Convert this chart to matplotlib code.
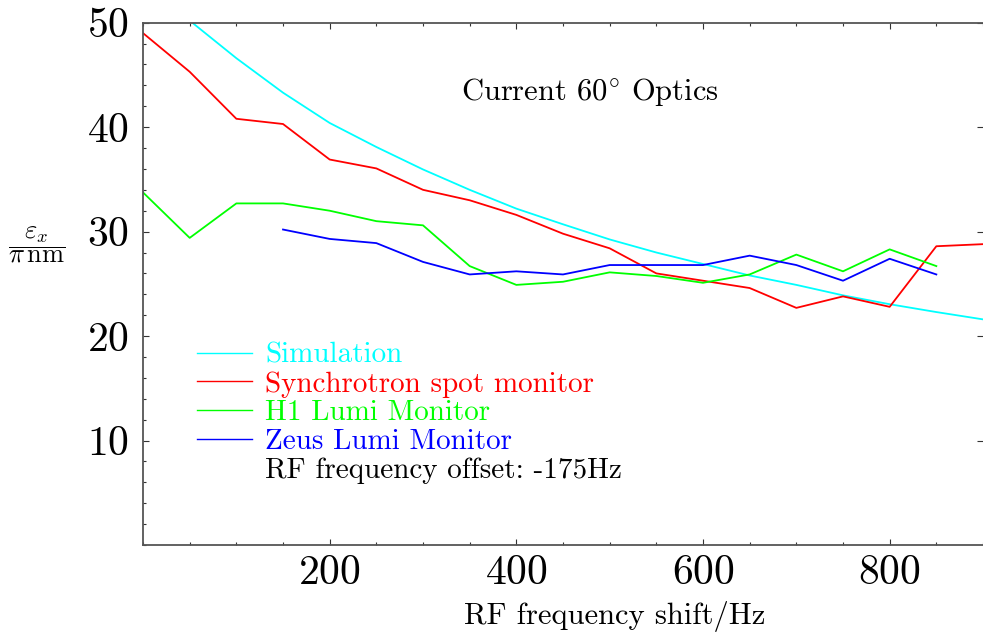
import matplotlib
matplotlib.use('Agg')
import matplotlib.pyplot as plt
from matplotlib.lines import Line2D
from matplotlib.ticker import MultipleLocator, FixedLocator

plt.rcParams['font.family'] = ['cmr10', 'DejaVu Serif']
plt.rcParams['mathtext.fontset'] = 'cm'
plt.rcParams['axes.unicode_minus'] = False
plt.rcParams['axes.formatter.use_mathtext'] = True

# 数据
shift = [0, 50, 100, 150, 200, 250, 300, 350, 400, 450, 500,
         550, 600, 650, 700, 750, 800, 850, 900]
simulation = [None, 50.2, 46.6, 43.3, 40.4, 38.1, 35.95, 34.0, 32.2, 30.7, 29.25,
              28.0, 26.9, 25.8, 24.9, 23.9, 23.05, 22.3, 21.6]
synchrotron = [49.0, 45.3, 40.8, 40.3, 36.9, 36.05, 34.0, 33.0, 31.6, 29.8, 28.4,
               26.0, 25.3, 24.6, 22.7, 23.8, 22.8, 28.6, 28.8]
h1_shift = [0, 50, 100, 150, 200, 250, 300, 350, 400, 450, 500,
            550, 600, 650, 700, 750, 800, 850]
h1_lumi = [33.75, 29.4, 32.7, 32.7, 32.0, 31.0, 30.6, 26.7, 24.9, 25.2, 26.1,
           25.75, 25.1, 25.9, 27.8, 26.2, 28.3, 26.7]
zeus_shift = [150, 200, 250, 300, 350, 400, 450, 500, 550, 600, 650, 700, 750, 800, 850]
zeus_lumi = [30.2, 29.3, 28.9, 27.1, 25.9, 26.2, 25.9, 26.8, 26.8, 26.8, 27.7,
             26.8, 25.3, 27.4, 25.9]

labels = ['Simulation', 'Synchrotron spot monitor', 'H1 Lumi Monitor', 'Zeus Lumi Monitor']
colors = ['#00ffff', '#ff0000', '#00ff00', '#0000ff']
note = 'RF frequency offset: -175Hz'

fig = plt.figure(figsize=(9.83, 6.37), dpi=100)
ax = fig.add_axes([0.1455, 0.1444, 0.8545, 0.82])

sim_x = [x for x, v in zip(shift, simulation) if v is not None]
sim_y = [v for v in simulation if v is not None]
ax.plot(sim_x, sim_y, color=colors[0], lw=1.3)
ax.plot(shift, synchrotron, color=colors[1], lw=1.3)
ax.plot(h1_shift, h1_lumi, color=colors[2], lw=1.3)
ax.plot(zeus_shift, zeus_lumi, color=colors[3], lw=1.3)

ax.set_xlim(0, 900)
ax.set_ylim(0, 50)

ax.xaxis.set_major_locator(FixedLocator([200, 400, 600, 800]))
ax.xaxis.set_minor_locator(MultipleLocator(50))
ax.yaxis.set_major_locator(FixedLocator([10, 20, 30, 40, 50]))
ax.yaxis.set_minor_locator(MultipleLocator(2))

for s in ['left', 'bottom', 'top']:
    ax.spines[s].set_color('#555555')
    ax.spines[s].set_linewidth(1.3)
ax.spines['right'].set_visible(False)

ax.tick_params(axis='both', which='both', direction='in', color='#333333', width=0.8)
ax.tick_params(axis='x', which='major', length=4.5, top=True, labelsize=30, pad=7)
ax.tick_params(axis='x', which='minor', length=2.5, top=True)
ax.tick_params(axis='y', which='major', length=4.5, right=True, labelsize=30, pad=10)
ax.tick_params(axis='y', which='minor', length=2.5)

ax.set_xlabel('RF frequency shift/Hz', fontsize=22)
ax.xaxis.set_label_coords(0.561, -0.108)
ax.set_ylabel(r'$\dfrac{\varepsilon_x}{\pi\,\mathrm{nm}}$', fontsize=19, rotation=0,
              ha='center', va='center')
ax.yaxis.set_label_coords(-0.127, 0.575)

# 标题
ax.text(0.532, 0.868, r'Current $\mathrm{60}^{\circ}$ Optics', transform=ax.transAxes,
        fontsize=22, ha='center', va='center')

handles = [Line2D([], [], color=c, lw=1.0) for c in colors]
handles.append(Line2D([], [], color='none'))
leg = ax.legend(handles, labels + [note], loc='upper left', bbox_to_anchor=(0.064, 0.388),
                frameon=False, fontsize=21, handlelength=1.9, handletextpad=0.45,
                labelspacing=0.08, borderpad=0.0, borderaxespad=0.0,
                labelcolor=colors + ['black'])

fig.savefig('out.png', dpi=100)
